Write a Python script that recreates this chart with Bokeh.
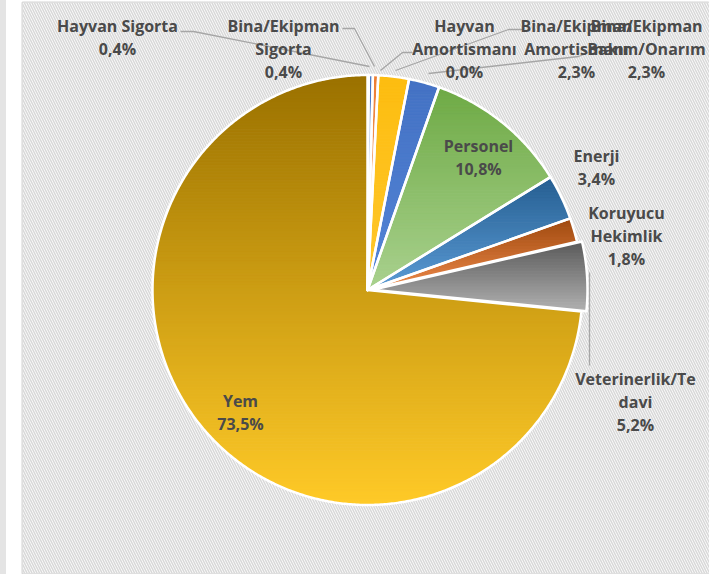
import numpy as np
from bokeh.plotting import figure
from bokeh.layouts import row
from bokeh.models import Range1d, BoxAnnotation, ColumnDataSource, Spacer
from bokeh.embed import file_html
from bokeh.resources import INLINE
from bokeh.core.properties import value

# ---------------- data ----------------
categories = ["Hayvan Sigorta", "Bina/Ekipman Sigorta", "Hayvan Amortismanı",
              "Bina/Ekipman Amortismanı", "Bina/Ekipman Bakım/Onarım", "Personel",
              "Enerji", "Koruyucu Hekimlik", "Veterinerlik/Tedavi", "Yem"]
shares = [0.4, 0.4, 0.0, 2.3, 2.3, 10.8, 3.4, 1.8, 5.2, 73.5]
label_lines = [["Hayvan Sigorta"], ["Bina/Ekipman", "Sigorta"], ["Hayvan", "Amortismanı"],
               ["Bina/Ekipman", "Amortismanı"], ["Bina/Ekipman", "Bakım/Onarım"],
               ["Personel"], ["Enerji"], ["Koruyucu", "Hekimlik"],
               ["Veterinerlik/Te", "davi"], ["Yem"]]
grad_top = ["#4472C4", "#ED7D31", "#A5A5A5", "#FDBD10", "#4472C4",
            "#6EAA45", "#255E91", "#9E480E", "#595959", "#9A7100"]
grad_bottom = ["#9DC3E6", "#F4B183", "#D0D0D0", "#FFC72C", "#5384D6",
               "#A9D18E", "#5B9BD5", "#EE8A4A", "#B0B0B0", "#FFCA28"]
explode = [0, 0, 0, 0, 0, 0, 0, 0, 5, 0]

# ---------------- layout ----------------
CX, CY, R = 367.0, 289.5, 215.0
label_x = [117, 283, 464, 576, 646, 478, 596, 626, 635, 240]
label_y = [25, 25, 25, 25, 25, 145, 155, 212, 378, 400]
LINE_STEP = 23
leaders = [
    ([180, 193, 369], [31, 31, 66]),
    ([342, 354, 374], [28, 28, 66]),
    ([412, 402, 380], [52, 52, 70]),
    ([522, 508, 395], [29, 29, 70]),
    ([588, 578, 428], [52, 56, 73]),
    ([589, 589], [365, 272]),
]

GRAY_W = 6
W, H = 703, 574
LEFT = 16
TOP = 2
x0 = GRAY_W + LEFT
p = figure(width=W, height=H, output_backend="svg", toolbar_location=None,
           x_range=Range1d(x0, GRAY_W + W), y_range=Range1d(H - 1, TOP),
           x_axis_location=None, y_axis_location=None,
           min_border_left=LEFT, min_border_right=0, min_border_top=TOP, min_border_bottom=1)
p.grid.visible = False
p.outline_line_color = "#d6d6d6"
p.outline_line_width = 2
p.border_fill_color = "white"
p.background_fill_color = "white"
p.add_layout(BoxAnnotation(fill_color="white", fill_alpha=1.0, line_alpha=0,
                           hatch_pattern="left_diagonal_line", hatch_color="#d9d9d9",
                           hatch_scale=5, hatch_weight=1.6, level="underlay"))


def hex2rgb(h):
    h = h.lstrip("#")
    return np.array([int(h[i:i + 2], 16) for i in (0, 2, 4)], dtype=float)


def mix(c0, c1, t):
    c = hex2rgb(c0) * (1 - t) + hex2rgb(c1) * t
    return "#%02x%02x%02x" % tuple(int(round(v)) for v in c)


def clip(poly, yv, keep_above):
    out = []
    n = len(poly)
    for i in range(n):
        a = poly[i]
        b = poly[(i + 1) % n]
        ina = a[1] >= yv if keep_above else a[1] <= yv
        inb = b[1] >= yv if keep_above else b[1] <= yv
        if ina:
            out.append(a)
        if ina != inb:
            t = (yv - a[1]) / (b[1] - a[1])
            out.append((a[0] + t * (b[0] - a[0]), yv))
    return out


band_xs, band_ys, band_col = [], [], []
out_xs, out_ys = [], []
cum = 0.0
for i, s in enumerate(shares):
    a0 = 90 - cum * 3.6
    a1 = a0 - s * 3.6
    cum += s
    if s <= 0:
        continue
    mid = np.radians((a0 + a1) / 2)
    cx = CX + explode[i] * np.cos(mid)
    cy = CY - explode[i] * np.sin(mid)
    n = max(4, int(abs(a1 - a0) * 2))
    ang = np.radians(np.linspace(a0, a1, n))
    px = [cx] + list(cx + R * np.cos(ang))
    py = [cy] + list(cy - R * np.sin(ang))
    poly = list(zip(px, py))
    ytop, ybot = min(py), max(py)
    nb = max(3, int((ybot - ytop) / 3))
    edges = np.linspace(ytop, ybot, nb + 1)
    for k in range(nb):
        piece = clip(poly, edges[k], True)
        piece = clip(piece, edges[k + 1], False)
        if len(piece) < 3:
            continue
        band_xs.append([q[0] for q in piece])
        band_ys.append([q[1] for q in piece])
        band_col.append(mix(grad_top[i], grad_bottom[i], (k + 0.5) / nb))
    out_xs.append(px)
    out_ys.append(py)

p.patches(xs="xs", ys="ys", fill_color="c", line_color="c", line_width=1,
          source=ColumnDataSource(dict(xs=band_xs, ys=band_ys, c=band_col)))
p.patches(xs=out_xs, ys=out_ys, fill_alpha=0, line_color="white", line_width=2.5,
          line_join="round")

for lx, ly in leaders:
    p.line(lx, ly, line_color="#a6a6a6", line_width=1.3)

tx, ty, tt = [], [], []
for i, lines in enumerate(label_lines):
    pct = f"{shares[i]:.1f}".replace(".", ",") + "%"
    for j, t in enumerate(lines + [pct]):
        tx.append(label_x[i])
        ty.append(label_y[i] + j * LINE_STEP)
        tt.append(t)
p.text(x="x", y="y", text="t", source=ColumnDataSource(dict(x=tx, y=ty, t=tt)),
       text_font=value("Open Sans"), text_font_style="bold", text_font_size="16px",
       text_color="#4a4a4a", text_align="center", text_baseline="middle")

gray = Spacer(width=GRAY_W, height=H, styles={"background-color": "#e4e4e4"})
layout = row(gray, p, spacing=0)
open("out.html", "w").write(file_html(layout, INLINE))
